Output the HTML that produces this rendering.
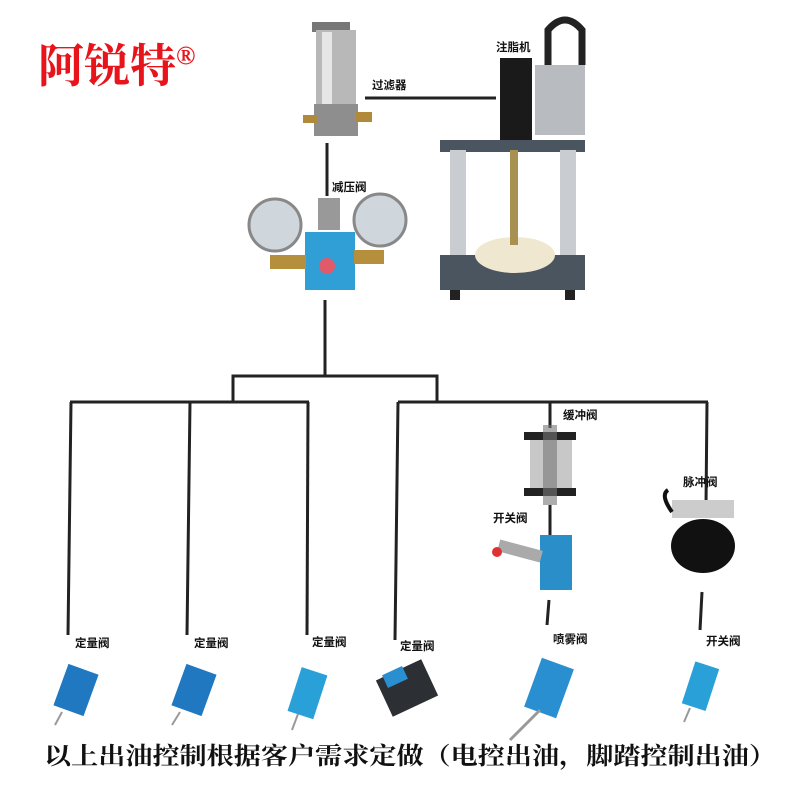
<!DOCTYPE html>
<html><head><meta charset="utf-8"><style>
body{margin:0;background:#fff;}
svg{display:block}
.l{font-family:"Liberation Sans","Noto Sans CJK SC",sans-serif;font-weight:bold;font-size:11.5px;fill:#111}
</style></head><body>
<svg width="800" height="800" viewBox="0 0 800 800" xmlns="http://www.w3.org/2000/svg">
<text x="38" y="82" font-family="'Liberation Serif','Noto Serif CJK SC',serif" font-weight="bold" font-size="46" fill="#e8141c">阿锐特<tspan font-size="26" dy="-18">®</tspan></text>

<g stroke="#222" stroke-width="3" fill="none">
<line x1="365" y1="98" x2="496" y2="98"/>
<line x1="327" y1="143" x2="327" y2="196"/>
<line x1="325" y1="300" x2="325" y2="377"/>
<polyline points="233,402 233,376 437,376 437,402"/>
<line x1="70" y1="402" x2="309" y2="402"/>
<line x1="398" y1="402" x2="708" y2="402"/>
<line x1="71" y1="402" x2="68" y2="635"/>
<line x1="190" y1="402" x2="187" y2="635"/>
<line x1="308" y1="402" x2="307" y2="635"/>
<line x1="398" y1="402" x2="395" y2="640"/>
<line x1="550" y1="402" x2="550" y2="428"/>
<line x1="550" y1="505" x2="550" y2="540"/>
<line x1="549" y1="600" x2="547" y2="625"/>
<line x1="707" y1="402" x2="706" y2="505"/>
<line x1="702" y1="592" x2="700" y2="630"/>
</g>

<!-- filter -->
<rect x="312" y="22" width="38" height="10" fill="#777"/>
<rect x="316" y="30" width="40" height="75" fill="#b8b8b8"/>
<rect x="322" y="32" width="10" height="72" fill="#e6e6e6"/>
<rect x="314" y="104" width="44" height="32" fill="#8e8e8e"/>
<rect x="303" y="115" width="14" height="8" fill="#b08a3a"/>
<rect x="356" y="112" width="16" height="10" fill="#b08a3a"/>

<!-- reducer -->
<circle cx="275" cy="225" r="26" fill="#cfd6dc" stroke="#888" stroke-width="3"/>
<circle cx="380" cy="220" r="26" fill="#cfd6dc" stroke="#888" stroke-width="3"/>
<rect x="318" y="198" width="22" height="32" fill="#999"/>
<rect x="305" y="232" width="50" height="58" fill="#2f9fd6"/>
<circle cx="327" cy="266" r="8" fill="#e05a6a"/>
<rect x="270" y="255" width="36" height="14" fill="#b58f3c"/>
<rect x="354" y="250" width="30" height="14" fill="#b58f3c"/>

<!-- machine -->
<rect x="440" y="140" width="145" height="12" fill="#4a5560"/>
<rect x="450" y="150" width="16" height="105" fill="#c9cdd2"/>
<rect x="560" y="150" width="16" height="105" fill="#c9cdd2"/>
<rect x="440" y="255" width="145" height="35" fill="#4a5560"/>
<ellipse cx="515" cy="255" rx="40" ry="18" fill="#efe7d0"/>
<rect x="510" y="150" width="8" height="95" fill="#a89050"/>
<rect x="500" y="58" width="32" height="82" fill="#1a1a1a"/>
<rect x="535" y="65" width="50" height="70" fill="#b8bcc0"/>
<path d="M548 65 V30 Q565 10 582 30 V65" fill="none" stroke="#222" stroke-width="7"/>
<rect x="450" y="290" width="10" height="10" fill="#222"/><rect x="565" y="290" width="10" height="10" fill="#222"/>

<!-- buffer valve -->
<rect x="524" y="432" width="52" height="8" fill="#222"/>
<rect x="530" y="440" width="42" height="48" fill="#c8c8c8"/>
<rect x="524" y="488" width="52" height="8" fill="#222"/>
<rect x="543" y="425" width="14" height="80" fill="#777" opacity="0.6"/>
<!-- switch valve -->
<rect x="540" y="535" width="32" height="55" fill="#2a8fc8"/>
<rect x="498" y="545" width="44" height="12" fill="#aaa" transform="rotate(15 520 551)"/>
<circle cx="497" cy="552" r="5" fill="#d33"/>
<!-- pulse valve -->
<rect x="672" y="500" width="62" height="18" fill="#ccc"/>
<ellipse cx="703" cy="546" rx="32" ry="27" fill="#111"/>
<path d="M672 512 Q660 495 668 490" stroke="#111" stroke-width="4" fill="none"/>

<!-- bottom valves -->
<g fill="#1f78c0">
<rect x="60" y="668" width="32" height="44" transform="rotate(20 76 690)"/>
<rect x="178" y="668" width="32" height="44" transform="rotate(20 194 690)"/>
<rect x="294" y="670" width="27" height="46" fill="#2aa0d8" transform="rotate(18 307 693)"/>
<rect x="532" y="662" width="34" height="52" fill="#2a8fd0" transform="rotate(20 549 688)"/>
<rect x="688" y="664" width="25" height="44" fill="#2aa0d8" transform="rotate(18 700 686)"/>
</g>
<g stroke="#999" stroke-width="2">
<line x1="62" y1="712" x2="55" y2="725"/>
<line x1="180" y1="712" x2="172" y2="725"/>
<line x1="298" y1="714" x2="292" y2="730"/>
<line x1="690" y1="708" x2="684" y2="722"/>
</g>
<rect x="382" y="668" width="50" height="40" fill="#2c2f33" transform="rotate(-25 407 688)"/>
<rect x="384" y="670" width="22" height="14" fill="#2a8fd0" transform="rotate(-25 395 677)"/>
<line x1="540" y1="710" x2="510" y2="740" stroke="#999" stroke-width="3"/>

<text class="l" x="332" y="191">减压阀</text>
<text class="l" x="372" y="89">过滤器</text>
<text class="l" x="496" y="51">注脂机</text>
<text class="l" x="563" y="419">缓冲阀</text>
<text class="l" x="493" y="522">开关阀</text>
<text class="l" x="683" y="486">脉冲阀</text>
<text class="l" x="75" y="647">定量阀</text>
<text class="l" x="194" y="647">定量阀</text>
<text class="l" x="312" y="646">定量阀</text>
<text class="l" x="400" y="650">定量阀</text>
<text class="l" x="553" y="643">喷雾阀</text>
<text class="l" x="706" y="645">开关阀</text>

<text x="44" y="764" font-family="'Liberation Sans','Noto Serif CJK SC',serif" font-weight="bold" font-size="24" fill="#111" textLength="732" lengthAdjust="spacingAndGlyphs">以上出油控制根据客户需求定做（电控出油，脚踏控制出油）</text>
</svg>
</body></html>
